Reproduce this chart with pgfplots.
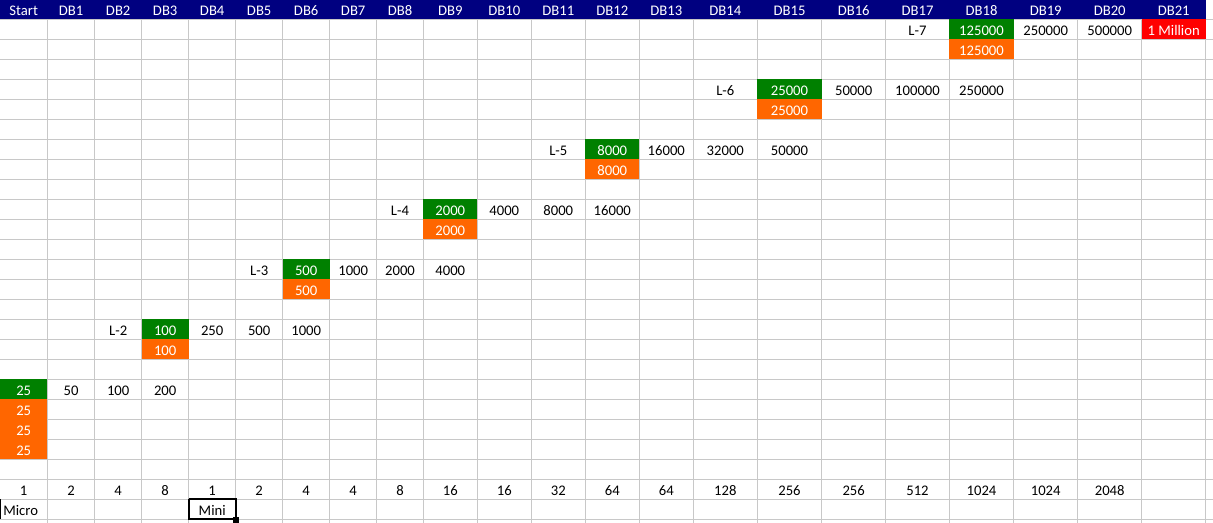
\documentclass[border=0pt]{standalone}
\usepackage{pgfplots}
\usepackage{pgfplotstable}
\pgfplotsset{compat=1.18}
\usepackage{fontspec}
\setmainfont{Carlito}
\definecolor{hdr}{RGB}{0,0,128}
\definecolor{xgreen}{RGB}{0,128,0}
\definecolor{xorange}{RGB}{255,102,0}
\definecolor{xred}{RGB}{255,0,0}
\definecolor{xgrid}{RGB}{200,200,200}

\pgfplotstableread[col sep=comma]{
x,y,label
23.7,9.7,Start
71,9.7,DB1
118.2,9.7,DB2
165.2,9.7,DB3
212.2,9.7,DB4
259.2,9.7,DB5
306.2,9.7,DB6
353.2,9.7,DB7
400,9.7,DB8
450.3,9.7,DB9
504.3,9.7,DB10
558.3,9.7,DB11
612.3,9.7,DB12
666.3,9.7,DB13
725.3,9.7,DB14
789.5,9.7,DB15
853.7,9.7,DB16
917.5,9.7,DB17
981.5,9.7,DB18
1045.7,9.7,DB19
1109.7,9.7,DB20
1173.7,9.7,DB21
}\headertab

\pgfplotstableread[col sep=comma]{
x,y,label
917.5,29.3,L-7
1045.7,29.3,250000
1109.7,29.3,500000
725.3,89.3,L-6
853.7,89.3,50000
917.5,89.3,100000
981.5,89.3,250000
558.3,149.3,L-5
666.3,149.3,16000
725.3,149.3,32000
789.5,149.3,50000
400,209.3,L-4
504.3,209.3,4000
558.3,209.3,8000
612.3,209.3,16000
259.2,269.3,L-3
353.2,269.3,1000
400,269.3,2000
450.3,269.3,4000
118.2,329.3,L-2
212.2,329.3,250
259.2,329.3,500
306.2,329.3,1000
71,389.3,50
118.2,389.3,100
165.2,389.3,200
23.7,489.3,1
71,489.3,2
118.2,489.3,4
165.2,489.3,8
212.2,489.3,1
259.2,489.3,2
306.2,489.3,4
353.2,489.3,4
400,489.3,8
450.3,489.3,16
504.3,489.3,16
558.3,489.3,32
612.3,489.3,64
666.3,489.3,64
725.3,489.3,128
789.5,489.3,256
853.7,489.3,256
917.5,489.3,512
981.5,489.3,1024
1045.7,489.3,1024
1109.7,489.3,2048
212.2,509.3,Mini
}\blacktab

\pgfplotstableread[col sep=comma]{
x,y,label
981.5,29.3,125000
1173.7,29.3,1 Million
981.5,49.3,125000
789.5,89.3,25000
789.5,109.3,25000
612.3,149.3,8000
612.3,169.3,8000
450.3,209.3,2000
450.3,229.3,2000
306.2,269.3,500
306.2,289.3,500
165.2,329.3,100
165.2,349.3,100
23.7,389.3,25
23.7,409.3,25
23.7,429.3,25
23.7,449.3,25
}\whitetab

\pgfplotstableread[col sep=comma]{
x,y,label
3,509.3,Micro
}\lefttab

\begin{document}
\begin{tikzpicture}
\begin{axis}[name=ax, scale only axis, width=909.75pt, height=392.25pt,
  xmin=0, xmax=1213, ymin=0, ymax=523, y dir=reverse,
  axis line style={draw=none}, major tick length=0pt,
  xtick={47.3,94.7,141.7,188.7,235.7,282.7,329.7,376.7,423.3,477.3,531.3,585.3,639.3,693.3,757.3,821.7,885.7,949.3,1013.7,1077.7,1141.7,1205.7},
  ytick={19.3,39.3,59.3,79.3,99.3,119.3,139.3,159.3,179.3,199.3,219.3,239.3,259.3,279.3,299.3,319.3,339.3,359.3,379.3,399.3,419.3,439.3,459.3,479.3,499.3,519.3},
  xticklabels={}, yticklabels={},
  grid=major, major grid style={draw=xgrid, line width=0.75pt},
  txt/.style={draw=none, mark=none, nodes near coords, point meta=explicit symbolic,
    every node near coord/.append style={anchor=center, font=\fontsize{11}{13}\selectfont, inner sep=0pt, yshift=-0.9pt, color=#1}},
]
% header band
\addplot[fill=hdr, draw=none] coordinates {(0,0)(1205.7,0)(1205.7,19.3)(0,19.3)};
% green cells
\addplot[fill=xgreen, draw=none] coordinates {(0,379.3)(47.3,379.3)(47.3,399.3)(0,399.3)};
\addplot[fill=xgreen, draw=none] coordinates {(141.7,319.3)(188.7,319.3)(188.7,339.3)(141.7,339.3)};
\addplot[fill=xgreen, draw=none] coordinates {(282.7,259.3)(329.7,259.3)(329.7,279.3)(282.7,279.3)};
\addplot[fill=xgreen, draw=none] coordinates {(423.3,199.3)(477.3,199.3)(477.3,219.3)(423.3,219.3)};
\addplot[fill=xgreen, draw=none] coordinates {(585.3,139.3)(639.3,139.3)(639.3,159.3)(585.3,159.3)};
\addplot[fill=xgreen, draw=none] coordinates {(757.3,79.3)(821.7,79.3)(821.7,99.3)(757.3,99.3)};
\addplot[fill=xgreen, draw=none] coordinates {(949.3,19.3)(1013.7,19.3)(1013.7,39.3)(949.3,39.3)};
% orange cells
\addplot[fill=xorange, draw=none] coordinates {(0,399.3)(47.3,399.3)(47.3,459.3)(0,459.3)};
\addplot[fill=xorange, draw=none] coordinates {(141.7,339.3)(188.7,339.3)(188.7,359.3)(141.7,359.3)};
\addplot[fill=xorange, draw=none] coordinates {(282.7,279.3)(329.7,279.3)(329.7,299.3)(282.7,299.3)};
\addplot[fill=xorange, draw=none] coordinates {(423.3,219.3)(477.3,219.3)(477.3,239.3)(423.3,239.3)};
\addplot[fill=xorange, draw=none] coordinates {(585.3,159.3)(639.3,159.3)(639.3,179.3)(585.3,179.3)};
\addplot[fill=xorange, draw=none] coordinates {(757.3,99.3)(821.7,99.3)(821.7,119.3)(757.3,119.3)};
\addplot[fill=xorange, draw=none] coordinates {(949.3,39.3)(1013.7,39.3)(1013.7,59.3)(949.3,59.3)};
% red cell
\addplot[fill=xred, draw=none] coordinates {(1141.7,19.3)(1205.7,19.3)(1205.7,39.3)(1141.7,39.3)};
% selected cell box
\addplot[draw=black, line width=1.5pt] coordinates {(188.7,499.3)(235.7,499.3)(235.7,519.3)(188.7,519.3)(188.7,499.3)};
\addplot[only marks, mark=square*, mark size=1.9pt, black] coordinates {(235.7,519.3)};
\addplot[draw=black, line width=0.9pt] coordinates {(0.6,499.3)(0.6,519.3)};
% texts
\addplot[txt=white] table[x=x, y=y, meta=label] {\headertab};
\addplot[txt=black] table[x=x, y=y, meta=label] {\blacktab};
\addplot[txt=white] table[x=x, y=y, meta=label] {\whitetab};
\addplot[draw=none, mark=none, nodes near coords, point meta=explicit symbolic,
  every node near coord/.append style={anchor=west, font=\fontsize{11}{13}\selectfont, inner sep=0pt, yshift=-0.9pt, color=black}]
  table[x=x, y=y, meta=label] {\lefttab};
\end{axis}
\pgfresetboundingbox
\path[use as bounding box] (ax.south west) rectangle (ax.north east);
\end{tikzpicture}
\end{document}
